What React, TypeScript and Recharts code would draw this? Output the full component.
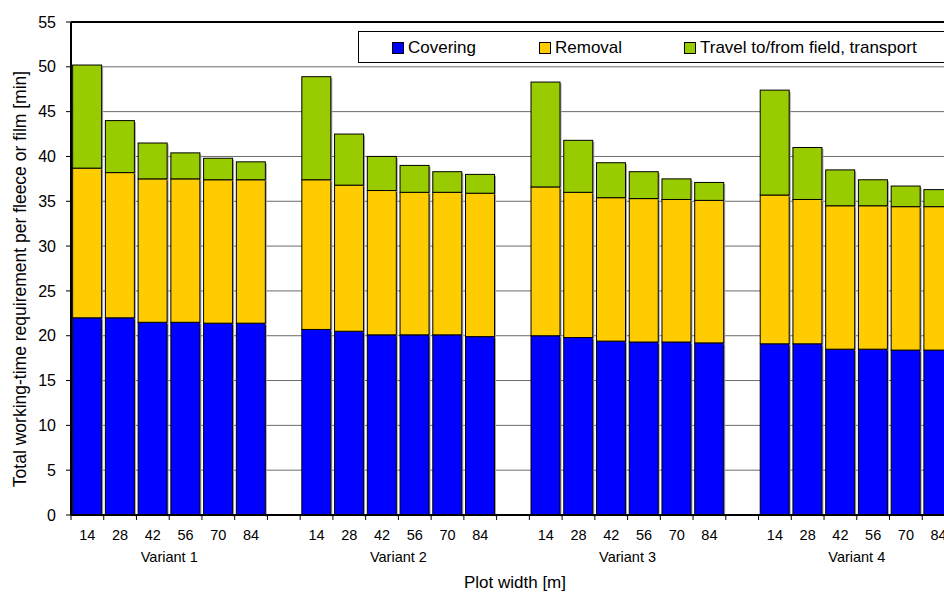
import React from 'react';
import { BarChart, Bar, XAxis, YAxis, CartesianGrid, Legend, ReferenceLine } from 'recharts';

const variants = ['Variant 1', 'Variant 2', 'Variant 3', 'Variant 4'];
const plotWidths = ['14', '28', '42', '56', '70', '84'];
const yTicks = [0, 5, 10, 15, 20, 25, 30, 35, 40, 45, 50, 55];

const coveringV1 = [22.0, 22.0, 21.5, 21.5, 21.4, 21.4];
const coveringV2 = [20.7, 20.5, 20.1, 20.1, 20.1, 19.9];
const coveringV3 = [20.0, 19.8, 19.4, 19.3, 19.3, 19.2];
const coveringV4 = [19.1, 19.1, 18.5, 18.5, 18.4, 18.4];

const removalV1 = [16.7, 16.2, 16.0, 16.0, 16.0, 16.0];
const removalV2 = [16.7, 16.3, 16.1, 15.9, 15.9, 16.0];
const removalV3 = [16.6, 16.2, 16.0, 16.0, 15.9, 15.9];
const removalV4 = [16.6, 16.1, 16.0, 16.0, 16.0, 16.0];

const travelV1 = [11.5, 5.8, 4.0, 2.9, 2.4, 2.0];
const travelV2 = [11.5, 5.7, 3.8, 3.0, 2.3, 2.1];
const travelV3 = [11.7, 5.8, 3.9, 3.0, 2.3, 2.0];
const travelV4 = [11.7, 5.8, 4.0, 2.9, 2.3, 1.9];

const seriesNames = ['Covering', 'Removal', 'Travel to/from field, transport'];
const seriesColors = ['#0000FF', '#FFCC00', '#99CC00'];

const coveringAll = [coveringV1, coveringV2, coveringV3, coveringV4];
const removalAll = [removalV1, removalV2, removalV3, removalV4];
const travelAll = [travelV1, travelV2, travelV3, travelV4];

type Row = { width: string; variant: string; covering: number | null; removal: number | null; travel: number | null };
const data: Row[] = [];
variants.forEach((v, vi) => {
  plotWidths.forEach((w, wi) => {
    data.push({ width: w, variant: v, covering: coveringAll[vi][wi], removal: removalAll[vi][wi], travel: travelAll[vi][wi] });
  });
  if (vi < variants.length - 1) data.push({ width: '', variant: '', covering: null, removal: null, travel: null });
});

const CHART_W = 960;
const CHART_H = 592;
const MARGIN = { top: 22, right: 5, bottom: 0, left: 11 };
const YAXIS_W = 60;
const PLOT_W = CHART_W - MARGIN.left - MARGIN.right - YAXIS_W;
const SLOT = PLOT_W / data.length;
const FONT = 'Liberation Sans, Arial, sans-serif';

const ShadowBar = (props: any) => {
  const { x, y, width, height, fill } = props;
  if (x == null || y == null || !width || !height) return null;
  return (
    <g>
      <rect x={x + width} y={y + 1.5} width={1.5} height={height} fill="#a8a8a8" />
      <rect x={x} y={y} width={width} height={height} fill={fill} stroke="#000" strokeWidth={1} />
    </g>
  );
};

const XTick = (props: any) => {
  const { x, y, payload, index } = props;
  const row = data[index];
  const showVariant = index % 7 === 3;
  return (
    <g>
      <line x1={x - SLOT / 2} x2={x - SLOT / 2} y1={y} y2={y + 5} stroke="#000" strokeWidth={1} />
      <text x={x} y={y + 25} textAnchor="middle" fontSize={14.5} fontFamily={FONT} fill="#000">
        {payload.value}
      </text>
      {showVariant && row ? (
        <text x={x - SLOT / 2} y={y + 46.5} textAnchor="middle" fontSize={14.5} fontFamily={FONT} fill="#000">
          {row.variant}
        </text>
      ) : null}
    </g>
  );
};

const LegendContent = (props: any) => {
  const payload = props.payload || [];
  const offsets = [33, 180, 325];
  return (
    <div
      style={{
        position: 'relative',
        width: 640,
        height: 30,
        border: '1px solid #000',
        background: '#fff',
        fontFamily: FONT,
      }}
    >
      {payload.map((entry: any, i: number) => (
        <div key={i} style={{ position: 'absolute', left: offsets[i], top: 0, height: 30 }}>
          <div
            style={{
              position: 'absolute',
              left: 0,
              top: 10,
              width: 10,
              height: 10,
              background: entry.color,
              border: '1px solid #000',
            }}
          />
          <span
            style={{
              position: 'absolute',
              left: 16,
              top: 7,
              fontSize: 17,
              lineHeight: '17px',
              whiteSpace: 'nowrap',
              color: '#000',
            }}
          >
            {entry.value}
          </span>
        </div>
      ))}
    </div>
  );
};

const YTitle = () => (
  <text
    x={26}
    y={279}
    transform="rotate(-90, 26, 279)"
    textAnchor="middle"
    fontSize={17.5}
    fontFamily={FONT}
    fill="#000"
  >
    Total working-time requirement per fleece or film [min]
  </text>
);

const XTitle = () => (
  <text x={515} y={588} textAnchor="middle" fontSize={17} fontFamily={FONT} fill="#000">
    Plot width [m]
  </text>
);

export default function App() {
  return (
    <div
      style={{
        position: 'absolute',
        left: 0,
        top: 0,
        width: 944,
        height: 592,
        overflow: 'hidden',
        background: '#fff',
      }}
    >
      <BarChart
        width={CHART_W}
        height={CHART_H}
        data={data}
        margin={MARGIN}
        barCategoryGap="5%"
        style={{ fontFamily: FONT }}
      >
        <CartesianGrid vertical={false} stroke="#6b6b6b" strokeWidth={1} />
        <XAxis
          dataKey="width"
          interval={0}
          height={77}
          tickSize={0}
          tickMargin={0}
          tickLine={false}
          axisLine={{ stroke: '#000', strokeWidth: 2 }}
          tick={<XTick />}
          label={<XTitle />}
        />
        <YAxis
          domain={[0, 55]}
          ticks={yTicks}
          width={YAXIS_W}
          interval={0}
          tickSize={5}
          tickMargin={10}
          tickLine={{ stroke: '#000' }}
          axisLine={{ stroke: '#000', strokeWidth: 2 }}
          tick={{ fontSize: 16, fill: '#000', fontFamily: FONT }}
          label={<YTitle />}
        />
        <ReferenceLine y={55} stroke="#000" strokeWidth={2} />
        <Legend
          layout="vertical"
          align="center"
          verticalAlign="middle"
          content={<LegendContent />}
          wrapperStyle={{ position: 'absolute', left: 358, top: 31, width: 640, height: 32 }}
        />
        <Bar dataKey="covering" name={seriesNames[0]} stackId="a" fill={seriesColors[0]} shape={<ShadowBar />} isAnimationActive={false} />
        <Bar dataKey="removal" name={seriesNames[1]} stackId="a" fill={seriesColors[1]} shape={<ShadowBar />} isAnimationActive={false} />
        <Bar dataKey="travel" name={seriesNames[2]} stackId="a" fill={seriesColors[2]} shape={<ShadowBar />} isAnimationActive={false} />
      </BarChart>
    </div>
  );
}
